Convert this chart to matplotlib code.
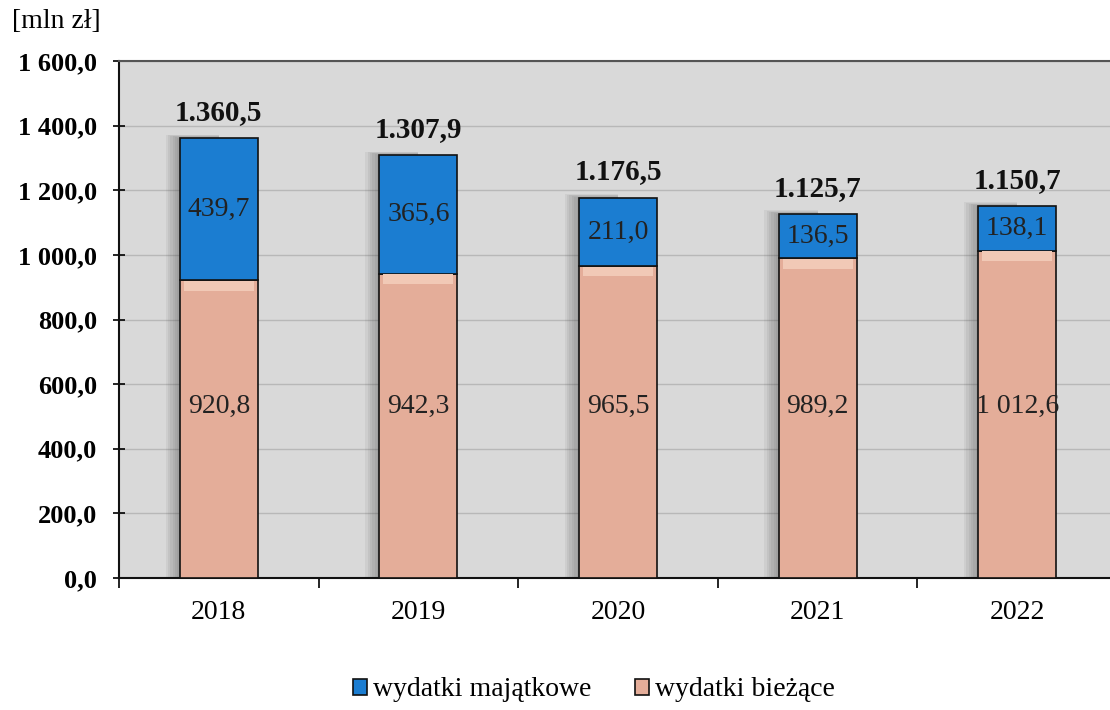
import matplotlib
matplotlib.use("Agg")
import matplotlib.pyplot as plt
import numpy as np

years = ["2018", "2019", "2020", "2021", "2022"]
majatkowe = [439.7, 365.6, 211.0, 136.5, 138.1]
biezace = [920.8, 942.3, 965.5, 989.2, 1012.6]
totals_labels = ["1.360,5", "1.307,9", "1.176,5", "1.125,7", "1.150,7"]
yticks = [0, 200, 400, 600, 800, 1000, 1200, 1400, 1600]

def fmt(v):
    s = f"{v:,.1f}".replace(",", " ").replace(".", ",")
    return s

plt.rcParams['font.family'] = ['Liberation Serif', 'DejaVu Serif']

fig = plt.figure(figsize=(11.1, 7.1), dpi=100)
ax = fig.add_axes([119/1110, (710-578)/710, 998/1110, (578-61)/710])

ax.set_facecolor('#d9d9d9')
x = np.arange(len(years))
w = 0.39
blue = '#1b7dd1'
peach = '#e4ad99'

tot = np.array(majatkowe) + np.array(biezace)
# soft shadow on the left of bars
for k in range(6):
    d = 0.012 * (6 - k)
    ax.bar(x - w / 2 - d, tot + 2 * (6 - k), width=w / 2 + d, align='edge',
           color='#404040', alpha=0.07, linewidth=0, zorder=1)

ax.bar(x, biezace, width=w, color=peach, edgecolor='#111111', linewidth=1.2,
       zorder=3, label='wydatki bieżące')
ax.bar(x, majatkowe, bottom=biezace, width=w, color=blue, edgecolor='#111111',
       linewidth=1.2, zorder=3, label='wydatki majątkowe')
# bevel highlight on top of peach
ax.bar(x, [30] * len(x), bottom=np.array(biezace) - 32, width=w * 0.9,
       color='#f1c9b6', linewidth=0, zorder=4)

for i in range(len(years)):
    ax.text(x[i], 530, fmt(biezace[i]), ha='center', va='center',
            fontsize=20, color='#222222', zorder=5)
    ax.text(x[i], biezace[i] + majatkowe[i] / 2, fmt(majatkowe[i]),
            ha='center', va='center', fontsize=20, color='#222222', zorder=5)
    ax.annotate(totals_labels[i], (x[i], tot[i]), xytext=(0, 9),
                textcoords='offset points', ha='center', va='bottom',
                fontsize=21, fontweight='bold', color='#111111', zorder=5)

ax.set_xlim(-0.5, len(years) - 0.5)
ax.set_ylim(0, 1600)
ax.set_yticks(yticks)
ax.set_yticklabels([fmt(v) for v in yticks], fontsize=19, fontweight='bold')
ax.set_xticks(x)
ax.set_xticklabels(years, fontsize=20)
ax.set_xticks(np.arange(-0.5, len(years), 1.0), minor=True)
ax.tick_params(axis='x', which='major', length=0, pad=16)
ax.tick_params(axis='x', which='minor', length=7, width=1.2, direction='out')
ax.tick_params(axis='y', length=8, width=1.2, direction='inout', pad=12)

ax.yaxis.grid(True, color='#b8b8b8', linewidth=1.0, zorder=0)
ax.set_axisbelow(True)
for s in ['left', 'bottom']:
    ax.spines[s].set_color('#111111')
    ax.spines[s].set_linewidth(1.5)
ax.spines['top'].set_color('#555555')
ax.spines['top'].set_linewidth(1.5)
ax.spines['right'].set_visible(False)

fig.text(12/1110, 1 - 22/710, '[mln zł]', fontsize=20, ha='left', va='center')

h, l = ax.get_legend_handles_labels()
fig.legend([h[1], h[0]], [l[1], l[0]], loc='center', bbox_to_anchor=(0.535, 1 - 690/710),
           ncol=2, frameon=False, fontsize=20, handlelength=0.5, handleheight=0.5,
           handletextpad=0.2, columnspacing=1.6)

fig.savefig('out.png', dpi=100)
